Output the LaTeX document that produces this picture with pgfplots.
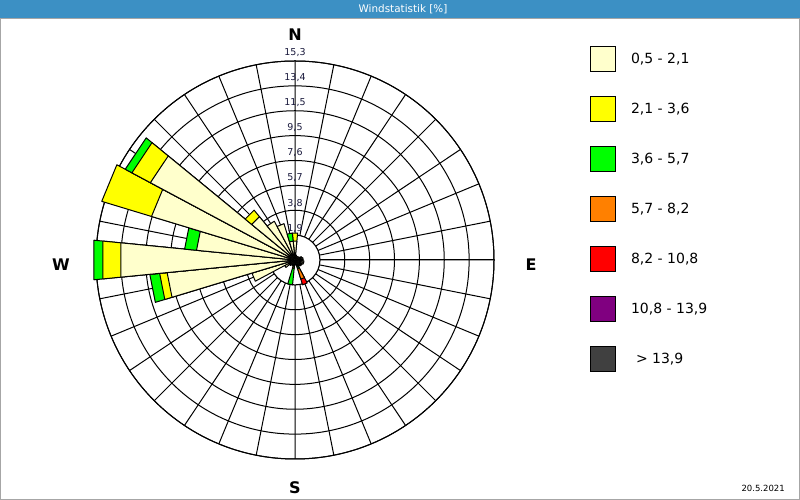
\documentclass[border=0pt]{standalone}
\usepackage{pgfplots}
\pgfplotsset{compat=1.18}
\usepgfplotslibrary{polar}
\usepackage{fontspec}
\setmainfont{DejaVu Sans}
\definecolor{c1}{RGB}{255,255,204}
\definecolor{c2}{RGB}{255,255,0}
\definecolor{c3}{RGB}{0,255,0}
\definecolor{c4}{RGB}{255,128,0}
\definecolor{c5}{RGB}{255,0,0}
\definecolor{c6}{RGB}{128,0,128}
\definecolor{c7}{RGB}{64,64,64}
\definecolor{titleblue}{RGB}{60,144,196}
\definecolor{lbl}{RGB}{25,25,60}
% #1 bearing (deg, clockwise from N), #2 cumulative frequency (%), #3 colour
\newcommand{\seg}[3]{%
  \pgfmathsetmacro{\aL}{90-#1+5.625}%
  \pgfmathsetmacro{\aR}{90-#1-5.625}%
  \edef\doplot{\noexpand\addplot[fill=#3, draw=black, line width=1bp, line join=round] coordinates {(0,0) (\aL,#2) (\aR,#2) (0,0)};}%
  \doplot}
\begin{document}
\begin{tikzpicture}[x=1bp,y=1bp]
\useasboundingbox (0,0) rectangle (800,500);
\fill[white] (0,0) rectangle (800,500);
\fill[titleblue] (0,481) rectangle (800,500);
\draw[black!35, line width=1bp] (0.5,0.5) rectangle (799.5,481);
\node[white, font=\fontsize{10.4bp}{12bp}\selectfont] at (403,490.5) {Windstatistik [\%]};
\begin{polaraxis}[
  at={(295bp,240bp)}, anchor=center,
  width=398bp, height=398bp, scale only axis,
  ymin=0, ymax=15.3,
  xtick={0,11.25,...,348.75},
  ytick={1.9125,3.825,5.7375,7.65,9.5625,11.475,13.3875,15.3},
  xticklabels={}, yticklabels={},
  major tick length=0pt,
  xmajorgrids, ymajorgrids,
  major grid style={black, line width=1bp},
  axis line style={black, line width=1bp},
  clip=false,
  legend cell align=left,
  legend style={at={(axis description cs:1.2412,1.0377)}, anchor=north west,
    draw=none, fill=none, inner sep=0pt, outer sep=0pt, row sep=24bp,
    font=\fontsize{14bp}{16bp}\selectfont, nodes={inner sep=0pt},
    /tikz/every odd column/.append style={column sep=15bp}},
  legend image code/.code={\draw[#1, draw=black, line width=1bp] (0bp,-12.5bp) rectangle (25bp,12.5bp);},
]
\addlegendimage{fill=c1}\addlegendentry{0,5 - 2,1}
\addlegendimage{fill=c2}\addlegendentry{2,1 - 3,6}
\addlegendimage{fill=c3}\addlegendentry{3,6 - 5,7}
\addlegendimage{fill=c4}\addlegendentry{5,7 - 8,2}
\addlegendimage{fill=c5}\addlegendentry{8,2 - 10,8}
\addlegendimage{fill=c6}\addlegendentry{10,8 - 13,9}
\addlegendimage{fill=c7}\addlegendentry{\hspace{5bp}> 13,9}
\draw[fill=white, line width=1bp] (axis cs:0,0) circle[radius=24.875bp];
% bars: outermost segment first
\seg{0}{2.08}{c2} \seg{0}{1.46}{c1}
\seg{11.25}{0.38}{c1}
\seg{22.5}{0.31}{c1}
\seg{33.75}{0.31}{c1}
\seg{45}{0.31}{c1}
\seg{56.25}{0.38}{c1}
\seg{67.5}{0.54}{c1}
\seg{78.75}{0.62}{c1}
\seg{90}{0.62}{c1}
\seg{101.25}{0.69}{c1}
\seg{112.5}{0.69}{c1}
\seg{123.75}{0.62}{c1}
\seg{135}{0.60}{c2} \seg{135}{0.46}{c1}
\seg{146.25}{0.46}{c1}
\seg{157.5}{2.00}{c5} \seg{157.5}{1.54}{c4} \seg{157.5}{0.69}{c3} \seg{157.5}{0.46}{c2} \seg{157.5}{0.30}{c1}
\seg{168.75}{0.38}{c1}
\seg{180}{0.38}{c1}
\seg{191.25}{1.92}{c3} \seg{191.25}{0.65}{c2} \seg{191.25}{0.30}{c1}
\seg{202.5}{0.46}{c1}
\seg{213.75}{0.46}{c1}
\seg{225}{0.54}{c1}
\seg{236.25}{0.90}{c1}
\seg{247.5}{3.46}{c1}
\seg{258.75}{11.22}{c3} \seg{258.75}{10.46}{c2} \seg{258.75}{9.88}{c1}
\seg{270}{15.53}{c3} \seg{270}{14.84}{c2} \seg{270}{13.45}{c1}
\seg{281.25}{8.53}{c3} \seg{281.25}{7.61}{c1}
\seg{292.5}{15.53}{c2} \seg{292.5}{11.53}{c1}
\seg{303.75}{14.80}{c3} \seg{303.75}{14.22}{c2} \seg{303.75}{12.61}{c1}
\seg{315}{4.96}{c2} \seg{315}{4.31}{c1}
\seg{326.25}{3.38}{c1}
\seg{337.5}{2.92}{c1}
\seg{348.75}{2.08}{c3} \seg{348.75}{1.46}{c1}
\end{polaraxis}
% ring labels
\begin{scope}[every node/.style={text=lbl, font=\fontsize{9.5bp}{11bp}\selectfont, inner sep=0pt}]
\node at (295,271.7) {1,9};
\node at (295,296.9) {3,8};
\node at (295,322.0) {5,7};
\node at (295,347.2) {7,6};
\node at (295,372.3) {9,5};
\node at (295,397.5) {11,5};
\node at (295,422.6) {13,4};
\node at (295,447.8) {15,3};
\end{scope}
\begin{scope}[every node/.style={font=\bfseries\fontsize{16bp}{18bp}\selectfont, inner sep=0pt}]
\node at (295,465) {N};
\node at (531,235) {E};
\node at (295,12) {S};
\node at (61,235) {W};
\end{scope}
\node[anchor=base east, inner sep=0pt, font=\fontsize{8.5bp}{10bp}\selectfont] at (785,8) {20.5.2021};
\end{tikzpicture}
\end{document}
